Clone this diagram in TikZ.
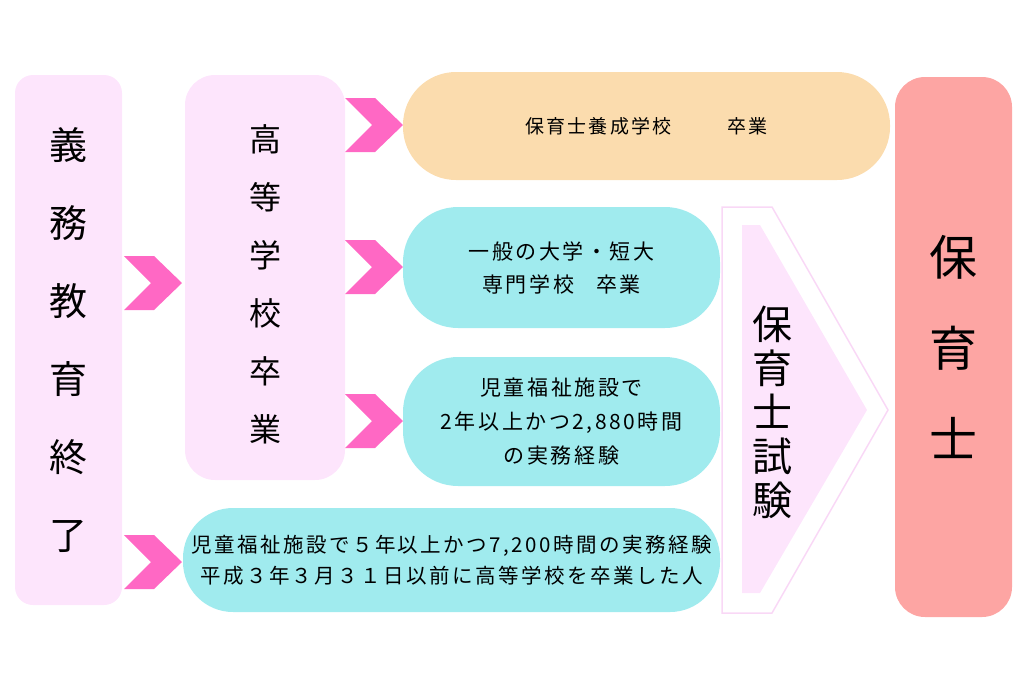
\documentclass[tikz,border=0pt]{standalone}
\usepackage{fontspec}
\setmainfont{Noto Sans CJK JP}
\newfontfamily\spaced[LetterSpace=12]{Noto Sans CJK JP}
\definecolor{lpink}{HTML}{FDE5FC}
\definecolor{lorange}{HTML}{FBDCAE}
\definecolor{lcyan}{HTML}{A0EBEE}
\definecolor{salmon}{HTML}{FDA5A3}
\definecolor{chevpink}{HTML}{FF68C4}
\definecolor{outpink}{HTML}{F9D8F6}
\tikzset{
  box/.style={inner sep=0pt, align=center, text=black},
  pinkbox/.style={box, fill=lpink},
  cyanbox/.style={box, fill=lcyan},
  pics/chevron/.style={code={
    \fill[chevpink] (0,0) -- (30,0) -- (58,27) -- (30,54) -- (0,54) -- (27,27) -- cycle;}},
}
\newcommand{\fsz}[2]{\fontsize{#1}{#2}\selectfont}
\begin{document}
\begin{tikzpicture}[x=1pt,y=-1pt]
\useasboundingbox (0,0) rectangle (1024,683);
% left column
\node[pinkbox, rounded corners=18pt, minimum width=107pt, minimum height=530pt, font=\fsz{38}{78}] (gimu) at (68.5,340)
  {義\\務\\教\\育\\終\\了};
\node[pinkbox, rounded corners=30pt, minimum width=160pt, minimum height=405pt] (koko) at (265,277.5) {};
\node[box, font=\fsz{32}{58}] (kokotext) at (265,284) {高\\等\\学\\校\\卒\\業};
% middle boxes
\node[box, fill=lorange, rounded corners=53pt, minimum width=487pt, minimum height=108pt, font=\spaced\fsz{19}{30}] (yosei) at (646.5,126)
  {保育士養成学校\hspace{56pt}卒業};
\node[cyanbox, rounded corners=55pt, minimum width=317pt, minimum height=121pt, font=\spaced\fsz{21}{33}] (daigaku) at (561.5,267.5)
  {一般の大学・短大\\専門学校\hspace{22pt}卒業};
\node[cyanbox, rounded corners=55pt, minimum width=317pt, minimum height=129pt, font=\spaced\fsz{21}{34}] (jimu2) at (561.5,421.5)
  {児童福祉施設で\\2年以上かつ2,880時間\\の実務経験};
\node[cyanbox, rounded corners=50pt, minimum width=537pt, minimum height=104pt, font=\spaced\fsz{20.5}{31}] (jimu5) at (451.5,560)
  {児童福祉施設で５年以上かつ7,200時間の実務経験\\平成３年３月３１日以前に高等学校を卒業した人};
% exam chevron
\draw[outpink, line width=1.5pt] (722,207) -- (772,207) -- (888,410) -- (772,613) -- (722,613) -- cycle;
\fill[lpink] (742,225) -- (760,225) -- (867,410) -- (760,593) -- (742,593) -- cycle;
\node[box, font=\fsz{40}{44}] (shiken) at (772,412) {保\\育\\士\\試\\験};
% right box
\node[box, fill=salmon, rounded corners=30pt, minimum width=117pt, minimum height=540pt, font=\fsz{48}{91}] (hoiku) at (953.5,347)
  {保\\育\\士};
% chevron arrows
\pic at (345,98) {chevron};
\pic at (345,240) {chevron};
\pic at (345,394) {chevron};
\pic at (124,256) {chevron};
\pic at (124,535) {chevron};
\end{tikzpicture}
\end{document}
